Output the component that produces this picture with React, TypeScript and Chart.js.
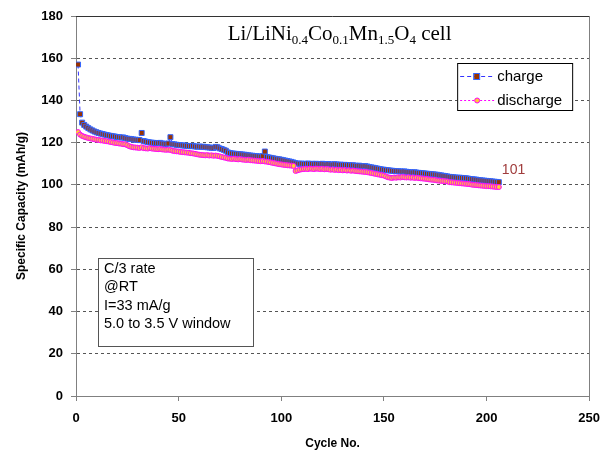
import { useEffect, useRef } from 'react';
import { Chart, registerables } from 'chart.js';

Chart.register(...registerables);

// Specific capacity (mAh/g) per cycle, cycles 1..N
const chargeCapacity = [
  157, 133.5, 129.5, 128.4, 127.6, 126.9, 126.3, 125.8, 125.3, 124.9,
  124.6, 124.3, 124.1, 123.8, 123.6, 123.4, 123.2, 123.0, 122.9, 122.7,
  122.6, 122.4, 122.5, 122.2, 121.9, 121.8, 121.7, 121.5, 121.4,
  121.3, 121.2, 124.6, 120.8, 120.5, 120.3, 120.1, 120.0, 119.9, 119.8,
  119.7, 119.9, 119.6, 119.5, 119.4, 119.6, 122.6, 119.3, 119.2, 119.0,
  118.9, 118.8, 118.7, 118.6, 118.5, 118.4, 118.3, 118.5, 118.2, 118.1,
  118.2, 118.0, 118.1, 117.9, 117.8, 117.7, 117.6, 117.5, 118.0, 117.8,
  117.3, 117.0, 116.6, 116.2, 115.4, 115.1, 114.9, 114.8, 114.7,
  114.6, 114.5, 114.4, 114.3, 114.2, 114.0, 113.9, 113.8, 113.7, 113.6,
  113.5, 113.4, 113.6, 115.8, 113.2, 113.0, 112.8, 112.6, 112.4, 112.2,
  112.1, 111.9, 111.7, 111.5, 111.3, 111.1, 110.9, 110.6, 110.3, 110.1,
  110.0, 110.1, 109.9, 110.0, 110.1, 109.9, 110.0, 109.8, 110.0, 109.9,
  109.8, 110.0, 109.9, 109.7, 109.9, 109.7, 109.6, 109.8, 109.7,
  109.5, 109.6, 109.4, 109.5, 109.3, 109.4, 109.2, 109.3, 109.1, 109.0,
  109.1, 108.9, 108.8, 108.9, 108.7, 108.5, 108.3, 108.1, 107.9, 107.7,
  107.5, 107.3, 107.2, 107.0, 106.9, 106.8, 106.7, 106.6, 106.5, 106.5,
  106.4, 106.3, 106.4, 106.2, 106.1, 106.0, 105.9, 106.0, 105.8, 105.7,
  105.6, 105.5, 105.4, 105.3, 105.2, 105.1, 105.0, 104.9, 104.8, 104.6,
  104.5, 104.3, 104.2, 104.0, 103.8, 103.7, 103.6, 103.5, 103.4,
  103.4, 103.3, 103.2, 103.1, 103.0, 102.8, 102.7, 102.6, 102.5, 102.3,
  102.2, 102.1, 102.0, 101.9, 101.8, 101.7, 101.6, 101.5, 101.4, 101.3,
];

const dischargeCapacity = [
  125.0, 123.8, 123.2, 122.8, 122.5, 122.2, 122.0, 121.8, 121.6, 121.4,
  121.3, 121.1, 121.0, 120.8, 120.7, 120.5, 120.3, 120.1, 119.9, 119.8,
  119.6, 119.5, 119.3, 119.2, 118.8, 118.3, 118.0, 117.8, 117.7,
  117.6, 117.5, 117.8, 117.4, 117.3, 117.2, 117.4, 117.2, 117.1, 117.0,
  116.9, 117.0, 116.8, 116.7, 116.6, 116.7, 116.5, 116.2, 116.0, 115.9,
  115.8, 115.6, 115.5, 115.4, 115.3, 115.2, 115.0, 114.9, 114.7, 114.5,
  114.3, 114.2, 114.1, 114.0, 114.1, 113.9, 114.0, 113.8, 113.9, 113.7,
  113.5, 113.2, 113.0, 112.8, 112.5, 112.4, 112.3, 112.4, 112.2,
  112.1, 112.2, 112.0, 111.9, 111.8, 111.9, 111.7, 111.6, 111.5, 111.4,
  111.3, 111.2, 111.3, 111.1, 111.0, 110.8, 110.6, 110.4, 110.2, 110.0,
  109.8, 109.7, 109.5, 109.4, 109.3, 109.2, 109.1, 109.0, 106.6, 106.9,
  107.2, 107.4, 107.5, 107.6, 107.5, 107.7, 107.6, 107.5, 107.7, 107.6,
  107.5, 107.6, 107.4, 107.5, 107.4, 107.2, 107.3, 107.1, 107.2,
  107.0, 107.1, 106.9, 107.0, 106.8, 106.9, 106.7, 106.8, 106.6, 106.5,
  106.4, 106.3, 106.2, 106.1, 106.0, 105.8, 105.6, 105.4, 105.2, 105.0,
  104.8, 104.6, 104.4, 104.0, 103.6, 103.4, 103.3, 103.5, 103.4, 103.6,
  103.5, 103.7, 103.6, 103.5, 103.6, 103.4, 103.5, 103.3, 103.4, 103.2,
  103.1, 103.0, 102.9, 102.8, 102.6, 102.5, 102.4, 102.3, 102.1, 102.0,
  101.9, 101.8, 101.7, 101.6, 101.3, 101.2, 101.1, 101.0, 100.9,
  100.8, 100.7, 100.6, 100.5, 100.4, 100.3, 100.1, 100.0, 99.9, 99.8,
  99.7, 99.6, 99.5, 99.4, 99.4, 99.3, 99.2, 99.1, 99.0, 99.0,
];

const xTicks = [0, 50, 100, 150, 200, 250];
const yTicks = [0, 20, 40, 60, 80, 100, 120, 140, 160, 180];
const seriesNames = ['charge', 'discharge'];
const infoLines = ['C/3 rate', '@RT', 'I=33 mA/g', '5.0 to 3.5 V window'];
const endLabel = '101';
const titleParts: { t: string; sub: boolean }[] = [
  { t: 'Li/LiNi', sub: false },
  { t: '0.4', sub: true },
  { t: 'Co', sub: false },
  { t: '0.1', sub: true },
  { t: 'Mn', sub: false },
  { t: '1.5', sub: true },
  { t: 'O', sub: false },
  { t: '4', sub: true },
  { t: ' cell', sub: false },
];

const SANS = '"Liberation Sans", Arial, sans-serif';
const SERIF = '"Liberation Serif", "Times New Roman", serif';

const CHARGE_LINE = '#3333FF';
const CHARGE_BORDER = '#3366FF';
const CHARGE_FILL = '#993300';
const DIS_LINE = '#FF00FF';
const DIS_FILL = '#FFCC33';

const decorations = {
  id: 'decorations',
  afterDraw(chart: any) {
    const { ctx, chartArea: a, scales } = chart;
    ctx.save();

    // plot frame (top / right)
    ctx.lineWidth = 1;
    ctx.strokeStyle = '#333333';
    ctx.beginPath();
    ctx.moveTo(a.left, Math.round(a.top) + 0.5);
    ctx.lineTo(Math.round(a.right) + 0.5, Math.round(a.top) + 0.5);
    ctx.stroke();
    ctx.strokeStyle = '#808080';
    ctx.beginPath();
    ctx.moveTo(Math.round(a.right) + 0.5, a.top);
    ctx.lineTo(Math.round(a.right) + 0.5, a.bottom);
    ctx.stroke();

    // title with subscripts
    const mainFont = `21px ${SERIF}`;
    const subFont = `13px ${SERIF}`;
    let total = 0;
    for (const p of titleParts) {
      ctx.font = p.sub ? subFont : mainFont;
      total += ctx.measureText(p.t).width;
    }
    let tx = (a.left + a.right) / 2 + 7 - total / 2;
    const baseY = a.top + 24;
    ctx.fillStyle = '#000';
    ctx.textBaseline = 'alphabetic';
    ctx.textAlign = 'left';
    for (const p of titleParts) {
      ctx.font = p.sub ? subFont : mainFont;
      ctx.fillText(p.t, tx, p.sub ? baseY + 4 : baseY);
      tx += ctx.measureText(p.t).width;
    }

    // legend
    const lx = a.right - 132;
    const ly = a.top + 47;
    const lw = 115;
    const lh = 47;
    ctx.fillStyle = '#fff';
    ctx.fillRect(lx, ly, lw, lh);
    ctx.strokeStyle = '#000';
    ctx.lineWidth = 1;
    ctx.strokeRect(lx + 0.5, ly + 0.5, lw, lh);
    const rows = [ly + 13, ly + 37];
    ctx.font = `15px ${SANS}`;
    ctx.textBaseline = 'middle';
    // charge row
    ctx.strokeStyle = CHARGE_LINE;
    ctx.setLineDash([4, 3]);
    ctx.beginPath();
    ctx.moveTo(lx + 3, rows[0] + 0.5);
    ctx.lineTo(lx + 37, rows[0] + 0.5);
    ctx.stroke();
    ctx.setLineDash([]);
    ctx.fillStyle = CHARGE_FILL;
    ctx.strokeStyle = CHARGE_BORDER;
    ctx.fillRect(lx + 17, rows[0] - 2, 5, 5);
    ctx.strokeRect(lx + 16.5, rows[0] - 2.5, 6, 6);
    ctx.fillStyle = '#000';
    ctx.fillText(seriesNames[0], lx + 40, rows[0] + 1);
    // discharge row
    ctx.strokeStyle = DIS_LINE;
    ctx.setLineDash([2, 2]);
    ctx.beginPath();
    ctx.moveTo(lx + 3, rows[1] + 0.5);
    ctx.lineTo(lx + 37, rows[1] + 0.5);
    ctx.stroke();
    ctx.setLineDash([]);
    ctx.fillStyle = DIS_FILL;
    ctx.strokeStyle = DIS_LINE;
    ctx.beginPath();
    ctx.arc(lx + 20, rows[1] + 0.5, 2.5, 0, Math.PI * 2);
    ctx.fill();
    ctx.stroke();
    ctx.fillStyle = '#000';
    ctx.fillText(seriesNames[1], lx + 40, rows[1] + 1);

    // info text box
    const bx = a.left + 22;
    const by = a.top + 242;
    const bw = 155;
    const bh = 88;
    ctx.fillStyle = '#fff';
    ctx.fillRect(bx, by, bw, bh);
    ctx.strokeStyle = '#555';
    ctx.strokeRect(bx + 0.5, by + 0.5, bw, bh);
    ctx.fillStyle = '#000';
    ctx.font = `14.5px ${SANS}`;
    ctx.textBaseline = 'middle';
    infoLines.forEach((line, i) => {
      ctx.fillText(line, bx + 6, by + 11 + i * 18.3);
    });

    // end label
    const lastIdx = chargeCapacity.length;
    const ex = scales.x.getPixelForValue(lastIdx) + 3;
    const ey = scales.y.getPixelForValue(chargeCapacity[lastIdx - 1]) - 12;
    ctx.fillStyle = '#A03C3C';
    ctx.font = `14px ${SANS}`;
    ctx.textAlign = 'left';
    ctx.fillText(endLabel, ex, ey);

    ctx.restore();
  },
};

export default function App() {
  const ref = useRef<HTMLCanvasElement | null>(null);

  useEffect(() => {
    document.body.style.margin = '0';
    if (!ref.current) return;
    const chargePts = chargeCapacity.map((v, i) => ({ x: i + 1, y: v }));
    const disPts = dischargeCapacity.map((v, i) => ({ x: i + 1, y: v }));

    const chart = new Chart(ref.current, {
      type: 'line',
      data: {
        datasets: [
          {
            label: seriesNames[0],
            data: chargePts,
            order: 1,
            borderColor: CHARGE_LINE,
            borderWidth: 1,
            borderDash: [4, 3],
            pointStyle: 'rect',
            pointRadius: 3.5,
            pointBackgroundColor: CHARGE_FILL,
            pointBorderColor: CHARGE_BORDER,
            pointBorderWidth: 1,
            tension: 0,
          },
          {
            label: seriesNames[1],
            data: disPts,
            order: 0,
            borderColor: DIS_LINE,
            borderWidth: 1,
            borderDash: [2, 2],
            pointStyle: 'circle',
            pointRadius: 2.5,
            pointBackgroundColor: DIS_FILL,
            pointBorderColor: DIS_LINE,
            pointBorderWidth: 1,
            tension: 0,
          },
        ],
      },
      options: {
        responsive: false,
        animation: false,
        events: [],
        layout: { padding: { top: 16, right: 17, left: 0, bottom: 0 } },
        plugins: {
          legend: { display: false },
          tooltip: { enabled: false },
          title: { display: false },
        },
        scales: {
          x: {
            type: 'linear',
            min: xTicks[0],
            max: xTicks[xTicks.length - 1],
            afterFit: (s: any) => {
              s.height = 55;
            },
            ticks: {
              stepSize: xTicks[1] - xTicks[0],
              color: '#000',
              font: { family: SANS, size: 13, weight: 'bold' },
              padding: 10,
              maxRotation: 0,
            },
            grid: {
              drawOnChartArea: false,
              drawTicks: true,
              tickLength: 5,
              tickColor: '#808080',
              color: '#808080',
            },
            border: { color: '#808080', width: 1 },
            title: {
              display: true,
              text: 'Cycle No.',
              color: '#000',
              font: { family: SANS, size: 12, weight: 'bold' },
              padding: { top: 0, bottom: 0 },
            },
          },
          y: {
            type: 'linear',
            min: yTicks[0],
            max: yTicks[yTicks.length - 1],
            afterFit: (s: any) => {
              s.width = 76;
            },
            ticks: {
              stepSize: yTicks[1] - yTicks[0],
              color: '#000',
              font: { family: SANS, size: 13, weight: 'bold' },
              padding: 8,
            },
            grid: {
              color: (c: any) =>
                c.tick && (c.tick.value === yTicks[0] || c.tick.value === yTicks[yTicks.length - 1])
                  ? 'rgba(0,0,0,0)'
                  : '#555555',
              drawTicks: true,
              tickLength: 5,
              tickColor: '#808080',
              tickBorderDash: [],
            },
            border: { color: '#808080', width: 1, dash: [3, 3] },
            title: {
              display: true,
              text: 'Specific Capacity (mAh/g)',
              color: '#000',
              font: { family: SANS, size: 12, weight: 'bold' },
              padding: { top: 14, bottom: 0 },
            },
          },
        },
      },
      plugins: [decorations],
    } as any);

    return () => chart.destroy();
  }, []);

  return (
    <div style={{ width: 610, height: 451 }}>
      <canvas ref={ref} width={610} height={451} style={{ display: 'block' }} />
    </div>
  );
}
